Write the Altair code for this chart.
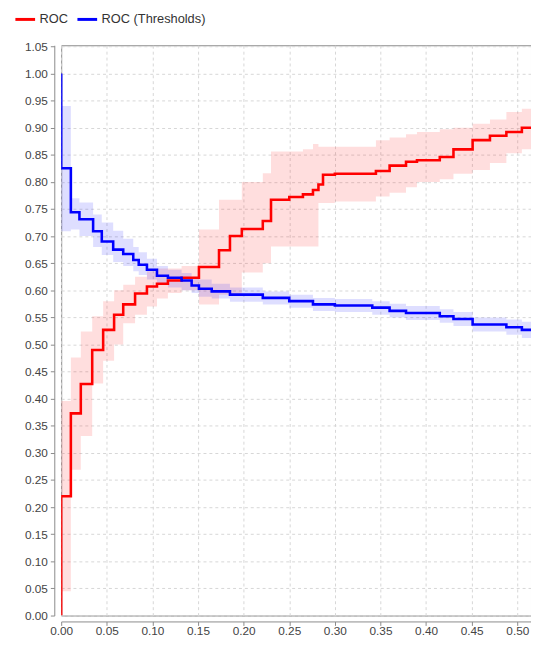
import altair as alt
import pandas as pd

# ROC curve (red) – step points with confidence band
roc_x = [0.0, 0.0, 0.0106, 0.0215, 0.034, 0.046, 0.058, 0.068, 0.081, 0.094,
         0.105, 0.117, 0.132, 0.151, 0.173, 0.185, 0.198, 0.221, 0.230, 0.250,
         0.265, 0.276, 0.282, 0.287, 0.300, 0.345, 0.360, 0.378, 0.390, 0.415,
         0.430, 0.451, 0.470, 0.488, 0.505, 0.5235]
roc_y = [0.0, 0.22, 0.373, 0.427, 0.49, 0.527, 0.555, 0.574, 0.594, 0.607,
         0.612, 0.618, 0.623, 0.643, 0.674, 0.70, 0.713, 0.728, 0.767, 0.772,
         0.777, 0.785, 0.795, 0.813, 0.815, 0.82, 0.83, 0.837, 0.84, 0.846,
         0.86, 0.877, 0.885, 0.892, 0.90, 0.907]
roc_lo = [0.045, 0.045, 0.269, 0.331, 0.428, 0.47, 0.50, 0.539, 0.555, 0.57,
          0.585, 0.595, 0.60, 0.574, 0.592, 0.592, 0.633, 0.65, 0.681, 0.681,
          0.681, 0.681, 0.761, 0.761, 0.764, 0.773, 0.78, 0.79, 0.80, 0.805,
          0.815, 0.822, 0.835, 0.853, 0.86, 0.868]
roc_hi = [0.396, 0.396, 0.476, 0.524, 0.552, 0.58, 0.60, 0.61, 0.625, 0.635,
          0.64, 0.64, 0.645, 0.712, 0.767, 0.767, 0.80, 0.816, 0.856, 0.856,
          0.86, 0.87, 0.865, 0.865, 0.865, 0.877, 0.882, 0.888, 0.892, 0.897,
          0.90, 0.907, 0.915, 0.929, 0.935, 0.94]

# ROC (Thresholds) curve (blue)
thr_x = [0.0, 0.0, 0.0106, 0.020, 0.035, 0.0445, 0.057, 0.068, 0.079, 0.085,
         0.094, 0.105, 0.117, 0.132, 0.143, 0.151, 0.165, 0.185, 0.221, 0.250,
         0.276, 0.300, 0.341, 0.360, 0.378, 0.415, 0.430, 0.451, 0.488, 0.505,
         0.5235]
thr_y = [1.000, 0.825, 0.744, 0.731, 0.709, 0.690, 0.675, 0.667, 0.656, 0.647,
         0.638, 0.627, 0.623, 0.618, 0.609, 0.603, 0.598, 0.592, 0.586, 0.580,
         0.574, 0.572, 0.568, 0.562, 0.558, 0.552, 0.547, 0.537, 0.532, 0.527,
         0.522]
thr_lo = [0.709, 0.709, 0.712, 0.70, 0.68, 0.665, 0.652, 0.645, 0.635, 0.628,
          0.62, 0.61, 0.605, 0.60, 0.595, 0.588, 0.585, 0.579, 0.574, 0.568,
          0.562, 0.56, 0.555, 0.55, 0.545, 0.54, 0.534, 0.524, 0.518, 0.512,
          0.507]
thr_hi = [0.94, 0.94, 0.77, 0.762, 0.74, 0.725, 0.71, 0.695, 0.68, 0.67,
          0.658, 0.645, 0.638, 0.632, 0.625, 0.62, 0.612, 0.605, 0.598, 0.592,
          0.586, 0.584, 0.58, 0.575, 0.571, 0.565, 0.56, 0.55, 0.546, 0.542,
          0.537]

series_names = ["ROC", "ROC (Thresholds)"]
series_colors = ["#ff0000", "#0000ff"]

x_ticks = [0.00, 0.05, 0.10, 0.15, 0.20, 0.25, 0.30, 0.35, 0.40, 0.45, 0.50]
y_ticks = [0.00, 0.05, 0.10, 0.15, 0.20, 0.25, 0.30, 0.35, 0.40, 0.45, 0.50,
           0.55, 0.60, 0.65, 0.70, 0.75, 0.80, 0.85, 0.90, 0.95, 1.00, 1.05]

roc = pd.DataFrame({"x": roc_x, "y": roc_y, "lo": roc_lo, "hi": roc_hi,
                    "i": list(range(len(roc_x))), "series": series_names[0]})
thr = pd.DataFrame({"x": thr_x, "y": thr_y, "lo": thr_lo, "hi": thr_hi,
                    "i": list(range(len(thr_x))), "series": series_names[1]})
lines_df = pd.concat([roc, thr], ignore_index=True)

FONT = "Liberation Sans"
xs = alt.Scale(domain=[0, 0.515], nice=False, zero=False)
ys = alt.Scale(domain=[0, 1.052], nice=False, zero=False)

x_axis = alt.Axis(values=x_ticks, format=".2f", title=None, grid=True,
                  labelOverlap=False, labelFlush=False,
                  offset=6, tickSize=4, labelPadding=0)
y_axis = alt.Axis(values=y_ticks, format=".2f", title=None, grid=True,
                  labelOverlap=False, labelFlush=False,
                  offset=7, tickSize=4, labelPadding=3)


def band(df, color):
    return alt.Chart(df).mark_area(
        interpolate="step-after", fill=color, fillOpacity=0.13, strokeWidth=0,
        clip=True,
    ).encode(
        x=alt.X("x:Q", scale=xs, axis=x_axis),
        y=alt.Y("lo:Q", scale=ys, axis=y_axis),
        y2="hi:Q",
    )


lines = alt.Chart(lines_df).mark_line(
    interpolate="step-after", strokeWidth=2.6, clip=True
).encode(
    x=alt.X("x:Q", scale=xs, axis=x_axis),
    y=alt.Y("y:Q", scale=ys, axis=y_axis),
    order="i:Q",
    color=alt.Color(
        "series:N",
        scale=alt.Scale(domain=series_names, range=series_colors),
        legend=alt.Legend(
            title=None, orient="none", legendX=-48, legendY=-38,
            direction="horizontal", symbolType="stroke", symbolSize=400,
            symbolStrokeWidth=3, labelFont=FONT, labelFontSize=13,
            labelColor="#333333", labelOffset=3, columnPadding=3, padding=0,
        ),
    ),
)

chart = alt.layer(band(roc, series_colors[0]), band(thr, series_colors[1]), lines).properties(
    width=531, height=633,
    autosize=alt.AutoSizeParams(type="fit", contains="padding"),
    padding={"left": 16, "top": 28, "right": 0, "bottom": 0},
    background="white",
).configure_view(
    stroke="#8a8a8a", strokeWidth=1
).configure_axis(
    gridDash=[3, 3], gridColor="#d6d6d6", domainColor="#8a8a8a",
    tickColor="#8a8a8a", labelColor="#444444", labelFont=FONT, labelFontSize=12,
)

chart.save("out.html", embed_options={"renderer": "svg", "actions": False})
